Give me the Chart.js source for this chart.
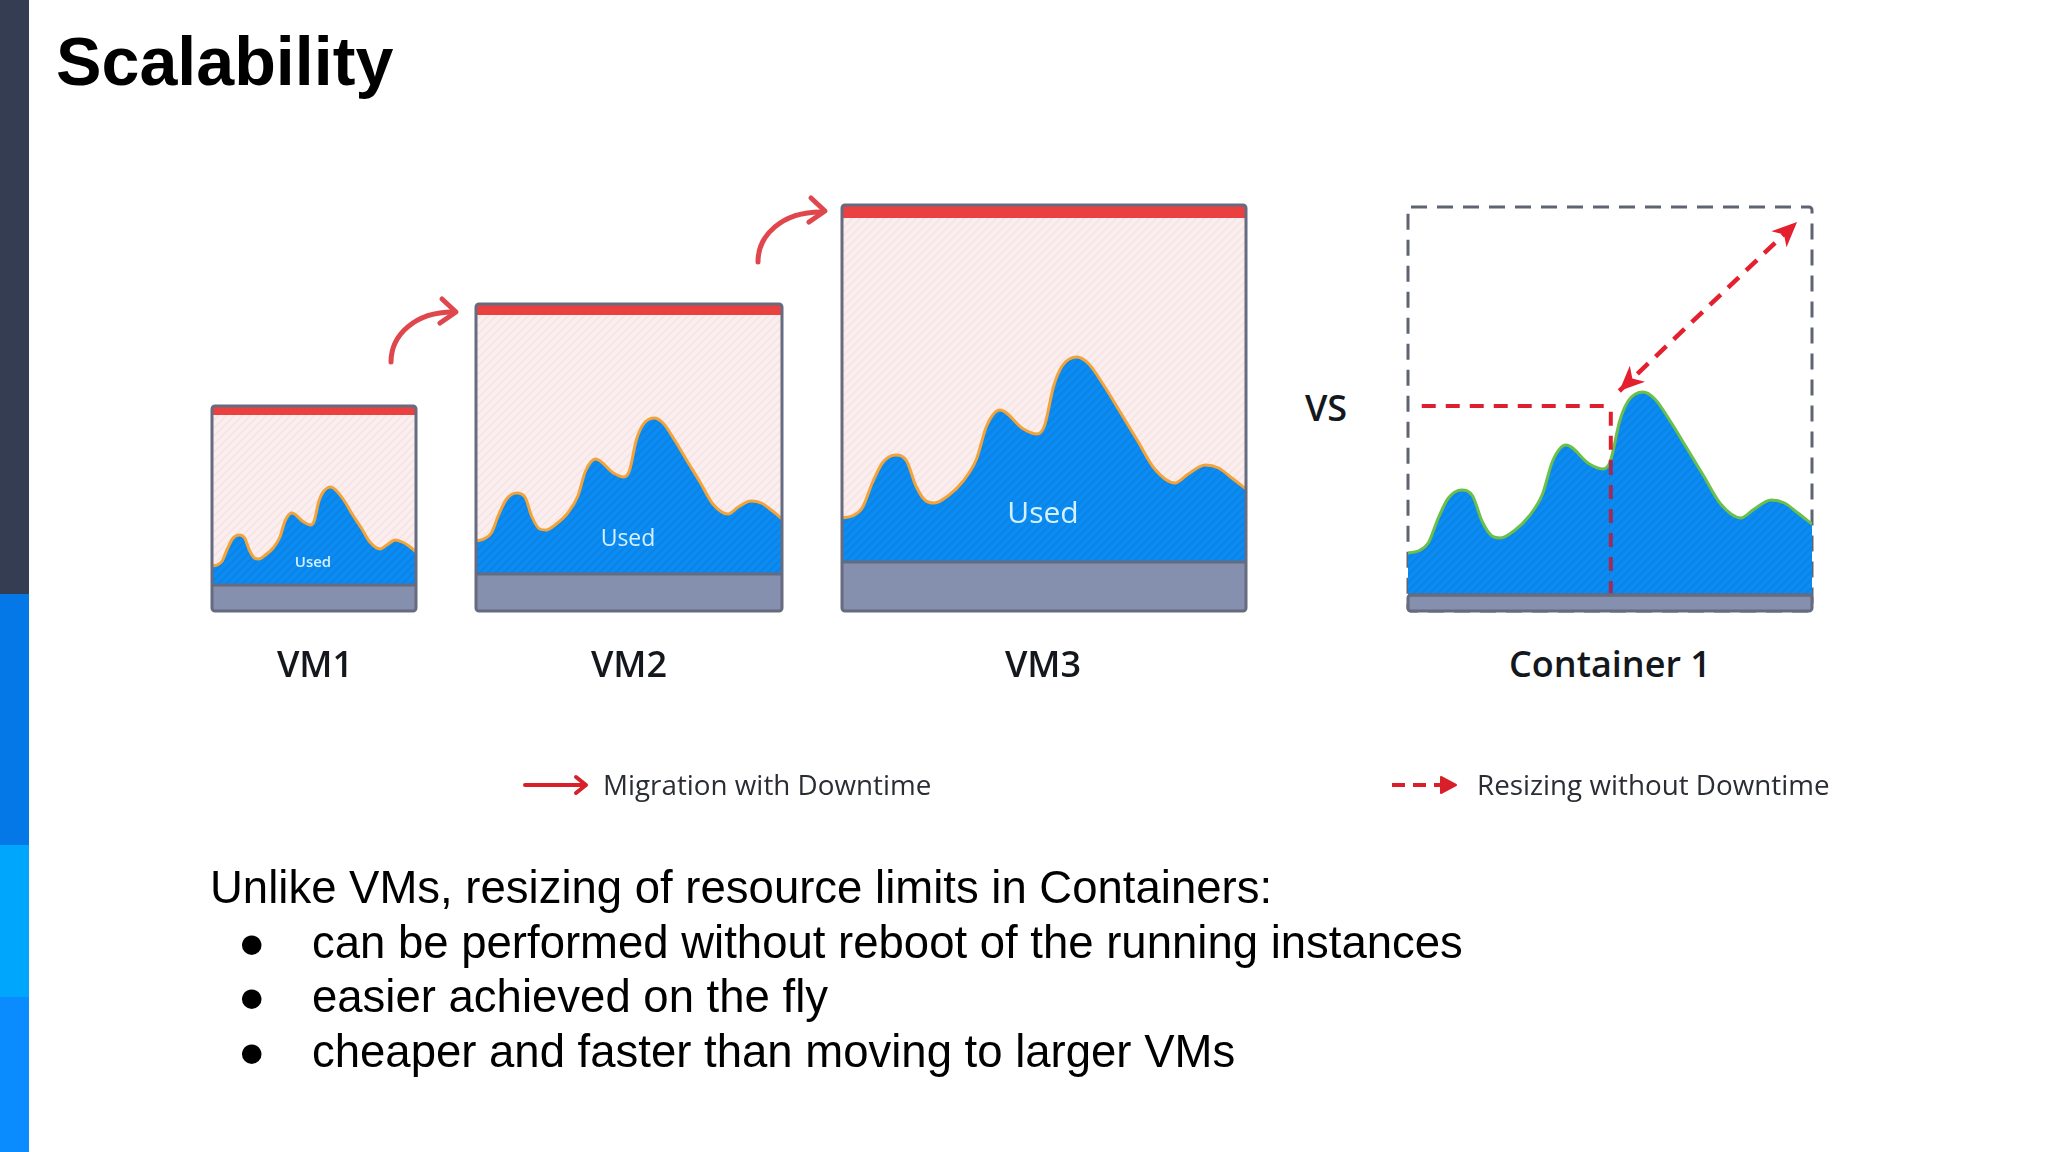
<!DOCTYPE html>
<html>
<head>
<meta charset="utf-8">
<title>Scalability</title>
<script src="https://cdn.jsdelivr.net/npm/chart.js@4"></script>
<style>
    html, body { margin: 0; padding: 0; background: #fff; }
    #slide { position: relative; width: 2048px; height: 1152px; overflow: hidden; font-family: "Liberation Sans", sans-serif; color: #000; }
    #slide canvas { position: absolute; }
    .band { position: absolute; left: 0; width: 29px; }
    .txt { position: absolute; line-height: 1; white-space: nowrap; }
    .body { font-size: 45.5px; }
    .cap { font-family: "Open Sans", sans-serif; font-weight: 600; font-size: 36px; color: #14181d; transform: translateX(-50%); }
    .used { font-family: "Open Sans", sans-serif; color: #d5f0ff; transform: translateX(-50%); }
    .leg { font-family: "Open Sans", sans-serif; font-size: 27.8px; color: #2a2d33; }
    #vm1 { left: 208px; top: 402px; }
    #vm2 { left: 472px; top: 300px; }
    #vm3 { left: 838px; top: 201px; }
    #container1 { left: 1404px; top: 203px; }
    svg { position: absolute; left: 0; top: 0; }
</style>
</head>
<body>
<div id="slide">
    <div class="band" style="top:0;height:594px;background:#343d51"></div>
    <div class="band" style="top:594px;height:251px;background:#0478e6"></div>
    <div class="band" style="top:845px;height:152px;background:#00a6fb"></div>
    <div class="band" style="top:997px;height:155px;background:#0a8cff"></div>

    <div class="txt" style="left:56px;top:27px;font-size:68.2px;font-weight:bold">Scalability</div>

    <canvas id="vm1" width="212" height="213"></canvas>
    <canvas id="vm2" width="314" height="315"></canvas>
    <canvas id="vm3" width="412" height="414"></canvas>
    <canvas id="container1" width="412" height="412"></canvas>

    <div class="txt used" style="left:313px;top:554px;font-size:15px;font-weight:600">Used</div>
    <div class="txt used" style="left:628px;top:526px;font-size:23px">Used</div>
    <div class="txt used" style="left:1043px;top:497px;font-size:30px">Used</div>

    <div class="txt cap" style="left:315px;top:646px">VM1</div>
    <div class="txt cap" style="left:629px;top:646px">VM2</div>
    <div class="txt cap" style="left:1043px;top:646px">VM3</div>
    <div class="txt cap" style="left:1610px;top:646px">Container 1</div>
    <div class="txt cap" style="left:1326px;top:390px">VS</div>

    <svg width="2048" height="1152" fill="none" stroke-linecap="round" stroke-linejoin="round">
        <g stroke="#e0474c" stroke-width="5">
            <path d="M391 362 C391 335 415 312 453 312"/>
            <path d="M442 299 L456 312 L440 323"/>
            <path d="M758 262 C758 235 782 212 821 212"/>
            <path d="M811 198 L825 211 L809 222"/>
        </g>
        <g stroke="#d81f2a" stroke-width="4">
            <path d="M525 785 L585 785"/>
            <path d="M576 777 L586 785 L576 793"/>
            <path d="M1392 785 L1454 785" stroke-dasharray="13 8" stroke-linecap="butt"/>
        </g>
        <path d="M1456 785 L1441 777 L1441 793 Z" fill="#d81f2a" stroke="#d81f2a" stroke-width="2"/>
    </svg>
    <div class="txt leg" style="left:603px;top:771px">Migration with Downtime</div>
    <div class="txt leg" style="left:1477px;top:771px">Resizing without Downtime</div>

    <div class="txt body" style="left:210px;top:865px">Unlike VMs, resizing of resource limits in Containers:</div>
    <div class="txt body" style="left:238px;top:920px">●</div>
    <div class="txt body" style="left:312px;top:920px">can be performed without reboot of the running instances</div>
    <div class="txt body" style="left:238px;top:974px">●</div>
    <div class="txt body" style="left:312px;top:974px">easier achieved on the fly</div>
    <div class="txt body" style="left:238px;top:1029px">●</div>
    <div class="txt body" style="left:312px;top:1029px">cheaper and faster than moving to larger VMs</div>
</div>

<script>
// Posição horizontal das amostras, em % da largura de cada painel
const samplePositions = [0, 2.5, 5, 7.5, 10, 13.3, 16, 18.3, 20.8, 22.9, 26.2, 30, 33.3, 35.8, 39.1, 44.9, 48.3, 50.1, 52.4, 54.5, 58.2, 61.1, 64.9, 69, 73.2, 77.4, 82.4, 85.7, 89.9, 93.2, 96.5, 100];

const vm1Used = [45, 46, 50, 62, 72, 76, 73, 61, 53, 52, 56, 63, 74, 90, 98, 89, 86, 90, 110, 119, 124, 120, 110, 96, 83, 69, 62, 66, 71, 69, 65, 59];
const vm2Used = [70, 72, 78, 97, 112, 118, 114, 94, 82, 81, 87, 98, 115, 140, 152, 138, 134, 140, 171, 186, 193, 188, 171, 150, 129, 107, 97, 104, 110, 108, 101, 92];
const vm3Used = [93, 95, 103, 128, 148, 156, 150, 125, 110, 108, 115, 130, 152, 185, 201, 182, 177, 185, 225, 245, 254, 247, 225, 198, 170, 142, 128, 137, 146, 143, 133, 122];
const containerUsed = [58, 60, 68, 93, 113, 121, 115, 90, 75, 73, 80, 95, 117, 150, 166, 147, 142, 150, 190, 210, 219, 212, 190, 163, 135, 107, 93, 102, 111, 108, 98, 87];

// Altura total, início da faixa de limite e topo da faixa reservada
const vmCapacity = [205, 307, 406];
const vmLimitStart = [196, 296, 393];
const vmReserved = [26, 37, 49];
const containerCapacity = 404;
const containerReserved = 16;

// Caminhos do redimensionamento: [% largura, altura]
const resizeLimitX = [3.4, 48.6, 50.2, 50.2, 50.2];
const resizeLimitY = [205, 205, 201, 150, 16];
const resizeDiagonalX = [52.3, 96.3];
const resizeDiagonalY = [220, 389];

const charts = {};

function hatch(bg, line) {
    const c = document.createElement('canvas');
    c.width = c.height = 8;
    const g = c.getContext('2d');
    g.fillStyle = bg;
    g.fillRect(0, 0, 8, 8);
    g.strokeStyle = line;
    g.lineWidth = 1.6;
    g.beginPath();
    g.moveTo(-2, 2); g.lineTo(2, -2);
    g.moveTo(0, 8); g.lineTo(8, 0);
    g.moveTo(6, 10); g.lineTo(10, 6);
    g.stroke();
    return g.createPattern(c, 'repeat');
}

const flat = y => [{ x: 0, y: y }, { x: 100, y: y }];
const points = (xs, ys) => xs.map((x, i) => ({ x: x, y: ys[i] }));

// Moldura do painel e pontas das setas tracejadas
const framePlugin = {
    id: 'frame',
    beforeDatasetsDraw(chart, args, opts) {
        if (!opts.dash) return;
        const a = chart.chartArea;
        const g = chart.ctx;
        g.save();
        g.strokeStyle = opts.color;
        g.lineWidth = opts.width;
        g.setLineDash(opts.dash);
        g.beginPath();
        g.roundRect(a.left, a.top, a.width, a.height, 3);
        g.stroke();
        g.restore();
    },
    afterDatasetsDraw(chart, args, opts) {
        const a = chart.chartArea;
        const g = chart.ctx;
        const top = opts.dash ? chart.scales.y.getPixelForValue(opts.band) : a.top;
        g.save();
        g.strokeStyle = opts.solid;
        g.lineWidth = opts.width;
        g.beginPath();
        g.roundRect(a.left, top, a.width, a.bottom - top, 3);
        g.stroke();
        g.restore();

        chart.data.datasets.forEach((ds, i) => {
            if (!ds.arrows) return;
            const pts = chart.getDatasetMeta(i).data;
            [[pts[1], pts[0]], [pts[0], pts[1]]].forEach(([from, to]) => {
                const ang = Math.atan2(to.y - from.y, to.x - from.x);
                g.save();
                g.translate(to.x, to.y);
                g.rotate(ang);
                g.fillStyle = ds.borderColor;
                g.beginPath();
                g.moveTo(0, 0);
                g.lineTo(-25, -11);
                g.lineTo(-18, 0);
                g.lineTo(-25, 11);
                g.closePath();
                g.fill();
                g.restore();
            });
        });
    }
};

const baseOptions = (capacity, frame) => ({
    responsive: false,
    animation: false,
    layout: { padding: 4 },
    elements: { point: { radius: 0 } },
    plugins: { legend: { display: false }, tooltip: { enabled: false }, frame: frame },
    scales: {
        x: { type: 'linear', min: 0, max: 100, display: false },
        y: { min: 0, max: capacity, display: false }
    }
});

window.renderizarVm = (id, used, capacity, limitStart, reserved) => {
    const ctx = document.getElementById(id);
    charts[id] = new Chart(ctx, {
        type: 'line',
        plugins: [framePlugin],
        data: {
            datasets: [
                { label: 'Reserved', data: flat(reserved), order: 0, borderColor: '#676b80', borderWidth: 3, backgroundColor: '#8490ad', fill: 'origin' },
                { label: 'Used', data: points(samplePositions, used), order: 1, cubicInterpolationMode: 'monotone', borderColor: '#f2a33a', borderWidth: 3, backgroundColor: hatch('#0a8cf4', '#0f82e0'), fill: 'origin' },
                { label: 'Limit', data: flat(capacity), order: 2, borderWidth: 0, backgroundColor: '#ea4040', fill: { value: limitStart } },
                { label: 'Free', data: flat(limitStart), order: 3, borderWidth: 0, backgroundColor: hatch('#fbeeee', '#f6e4e4'), fill: 'origin' }
            ]
        },
        options: baseOptions(capacity, { solid: '#676b80', width: 3 })
    });
};

window.renderizarContainer = id => {
    const ctx = document.getElementById(id);
    charts[id] = new Chart(ctx, {
        type: 'line',
        plugins: [framePlugin],
        data: {
            datasets: [
                { label: 'Reserved', data: flat(containerReserved), order: 0, borderColor: '#676b80', borderWidth: 3, backgroundColor: '#8490ad', fill: 'origin' },
                {
                    label: 'Limit',
                    data: points(resizeLimitX, resizeLimitY),
                    order: 1,
                    borderColor: '#e01f2e',
                    borderWidth: 4,
                    borderDash: [14, 10],
                    fill: false,
                    // trecho sobre a área azul fica mais escuro
                    segment: { borderColor: s => s.p0DataIndex === 3 ? '#a02a58' : undefined }
                },
                { label: 'Resize', data: points(resizeDiagonalX, resizeDiagonalY), order: 1, arrows: true, borderColor: '#e5202e', borderWidth: 4.5, borderDash: [15, 10], fill: false },
                { label: 'Used', data: points(samplePositions, containerUsed), order: 2, cubicInterpolationMode: 'monotone', borderColor: '#6cc04a', borderWidth: 3, backgroundColor: hatch('#0a8cf4', '#0f82e0'), fill: 'origin' }
            ]
        },
        options: baseOptions(containerCapacity, { color: '#5f6472', solid: '#676b80', width: 3, dash: [16, 10], band: containerReserved })
    });
};

window.renderizarVm('vm1', vm1Used, vmCapacity[0], vmLimitStart[0], vmReserved[0]);
window.renderizarVm('vm2', vm2Used, vmCapacity[1], vmLimitStart[1], vmReserved[1]);
window.renderizarVm('vm3', vm3Used, vmCapacity[2], vmLimitStart[2], vmReserved[2]);
window.renderizarContainer('container1');
</script>
</body>
</html>
